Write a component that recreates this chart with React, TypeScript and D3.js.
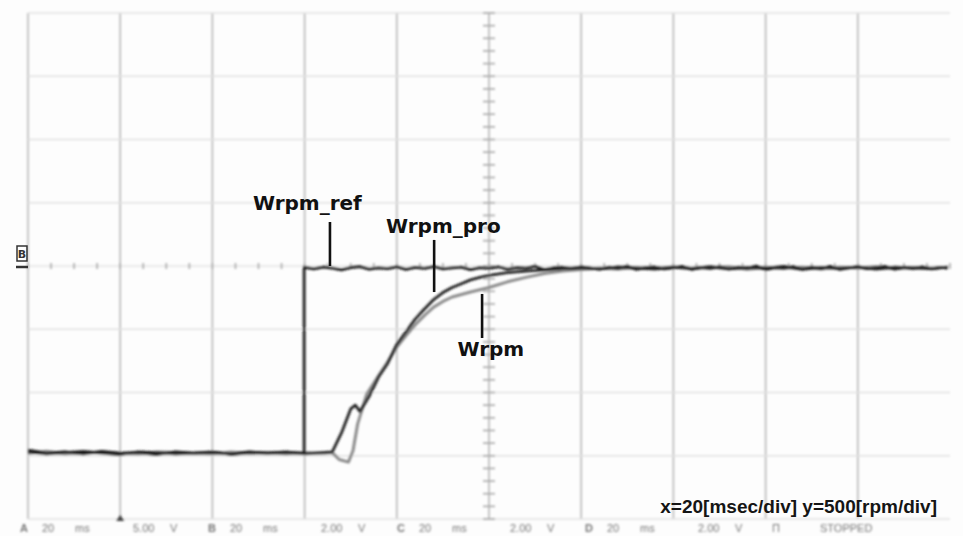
import React, { Component } from "react"
import * as d3 from "d3"

// scope screen: 10 div x 20 msec, 8 div x 500 rpm (centre line = 1500 rpm)
const xDivs = [0, 20, 40, 60, 80, 100, 120, 140, 160, 180, 200]
const yDivs = [-500, 0, 500, 1000, 1500, 2000, 2500, 3000, 3500]

// Wrpm_ref : speed command (step at ~60 ms)
const refTime = [0, 4, 8, 12, 16, 20, 24, 28, 32, 36, 40, 44, 48, 52, 56, 59.9, 59.9, 62, 64, 66, 68, 70, 72, 74, 76, 78, 80, 82, 84, 86, 88, 90, 92, 94, 96, 98, 100, 102, 104, 106, 108, 110, 112, 114, 116, 118, 120, 122, 124, 126, 128, 130, 132, 134, 136, 138, 140, 142, 144, 146, 148, 150, 152, 154, 156, 158, 160, 162, 164, 166, 168, 170, 172, 174, 176, 178, 180, 182, 184, 186, 188, 190, 192, 194, 196, 198, 199.5]
const refRpm = [45, 20, 30, 15, 35, 20, 25, 10, 30, 20, 25, 15, 30, 20, 25, 20,
  1490, 1478, 1492, 1483, 1470, 1488, 1495, 1476, 1486, 1480,
  1493, 1474, 1489, 1482, 1496, 1477, 1485, 1491, 1472, 1487,
  1481, 1494, 1476, 1488, 1483, 1497, 1471, 1486, 1490, 1479,
  1493, 1484, 1475, 1490, 1482, 1498, 1473, 1487, 1492, 1478,
  1485, 1496, 1474, 1489, 1481, 1494, 1477, 1490, 1483, 1499,
  1472, 1488, 1484, 1495, 1476, 1491, 1480, 1497, 1474, 1486,
  1493, 1479, 1488, 1496, 1475, 1490, 1482, 1494, 1478, 1489, 1484]

// Wrpm_pro : estimated speed
const proTime = [0, 4, 8, 12, 16, 20, 24, 28, 32, 36, 40, 44, 48, 52, 56, 60, 64, 66, 68, 70, 71, 72, 74, 76, 78, 80, 82, 84, 86, 88, 90, 92, 94, 96, 98, 100, 104, 108, 112, 116, 120, 124, 128, 132, 136, 140, 144, 148, 152, 156, 160, 164, 168, 172, 176, 180, 184, 188, 192, 196, 199.5]
const proRpm = [30, 15, 25, 35, 20, 10, 30, 25, 15, 20, 30, 10, 25, 20, 30, 15, 25,
  30, 180, 370, 400, 350, 470, 620, 730, 880, 980, 1080, 1160, 1235, 1290, 1330, 1360, 1390, 1410, 1425,
  1448, 1460, 1470, 1480, 1486, 1478, 1492, 1483, 1475, 1490, 1481, 1494, 1477, 1488, 1484, 1496, 1473, 1489, 1482, 1493, 1476, 1490, 1485, 1479, 1491]

// Wrpm : measured speed
const wTime = [0, 4, 8, 12, 16, 20, 24, 28, 32, 36, 40, 44, 48, 52, 56, 60, 64, 66, 67.5, 69.5, 70.5, 71.5, 73.5, 76, 78, 80, 82, 84, 86, 88, 90, 92, 94, 96, 98, 100, 104, 108, 112, 116, 120, 124, 128, 132, 136, 140, 144, 148, 152, 156, 160, 164, 168, 172, 176, 180, 184, 188, 192, 196, 199.5]
const wRpm = [20, 35, 15, 25, 30, 20, 15, 30, 25, 20, 15, 30, 20, 25, 15, 25, 20,
  25, -30, -50, 40, 250, 490,
  630, 740, 860, 950, 1035, 1110, 1175, 1220, 1255, 1275, 1295, 1312, 1330,
  1375, 1410, 1440, 1460, 1472, 1482, 1476, 1489, 1481, 1492, 1478, 1486, 1494, 1475, 1488, 1483, 1491, 1477, 1490, 1484, 1495, 1479, 1487, 1482, 1490]

// callouts, in (msec, rpm)
const labels = [
  { text: "Wrpm_ref", tx: 60.6, ty: 1943, lx: 65.5, ly1: 1848, ly2: 1500 },
  { text: "Wrpm_pro", tx: 90.1, ty: 1761, lx: 88.1, ly1: 1706, ly2: 1294 },
  { text: "Wrpm", tx: 100.4, ty: 789, lx: 98.5, ly1: 1279, ly2: 931 },
]

const channels = [
  { ch: "A", volts: "5.00" },
  { ch: "B", volts: "2.00" },
  { ch: "C", volts: "2.00" },
  { ch: "D", volts: "2.00" },
]

const zip = (t, v) => t.slice(0, Math.min(t.length, v.length)).map((d, i) => [d, v[i]])

class App extends Component {
  componentDidMount() {
    const width = 963, height = 536
    const svg = d3.select(".scope_svg").attr("width", width).attr("height", height)
    const x = d3.scaleLinear().domain([0, 200]).range([28, 950])
    const y = d3.scaleLinear().domain([-500, 3500]).range([519, 13])

    const screen = svg.select(".screen").attr("filter", "url(#soft)")

    // grid
    screen.selectAll(".vgrid").data(xDivs).join("line").attr("class", "vgrid")
      .attr("x1", d => x(d)).attr("x2", d => x(d)).attr("y1", y(3500)).attr("y2", y(-500))
      .attr("stroke", d => d === 200 ? "none" : "#b3b3b3").attr("stroke-width", 1.5)
    screen.selectAll(".hgrid").data(yDivs).join("line").attr("class", "hgrid")
      .attr("x1", x(0)).attr("x2", x(200)).attr("y1", d => y(d)).attr("y2", d => y(d))
      .attr("stroke", d => d === 1500 ? "none" : "#e0e0e0").attr("stroke-width", 1.4)

    // centre cross with minor ticks
    screen.append("line").attr("x1", x(100)).attr("x2", x(100)).attr("y1", y(3500)).attr("y2", y(-500))
      .attr("stroke", "#c4c4c4").attr("stroke-width", 1.2)
    screen.append("line").attr("x1", x(0)).attr("x2", x(200)).attr("y1", y(1500)).attr("y2", y(1500))
      .attr("stroke", "#d6d6d6").attr("stroke-width", 1)
    screen.selectAll(".ytick").data(y.ticks(40)).join("line").attr("class", "ytick")
      .attr("x1", x(100) - 6).attr("x2", x(100) + 6).attr("y1", d => y(d)).attr("y2", d => y(d))
      .attr("stroke", "#a8a8a8").attr("stroke-width", 1.6)
    screen.selectAll(".xtick").data(x.ticks(50)).join("line").attr("class", "xtick")
      .attr("x1", d => x(d)).attr("x2", d => x(d)).attr("y1", y(1500) - 3).attr("y2", y(1500) + 3)
      .attr("stroke", "#a8a8a8").attr("stroke-width", 1.6)

    // traces
    const line = d3.line().x(d => x(d[0])).y(d => y(d[1]))
    screen.append("path").datum(zip(wTime, wRpm)).attr("d", line)
      .attr("fill", "none").attr("stroke", "#8c8c8c").attr("stroke-width", 3).attr("stroke-linejoin", "round")
    screen.append("path").datum(zip(proTime, proRpm)).attr("d", line)
      .attr("fill", "none").attr("stroke", "#222").attr("stroke-width", 2.8).attr("stroke-linejoin", "round")
    screen.append("path").datum(zip(refTime, refRpm)).attr("d", line)
      .attr("fill", "none").attr("stroke", "#1a1a1a").attr("stroke-width", 2.8).attr("stroke-linejoin", "round")

    // callouts
    const notes = svg.select(".notes")
    notes.selectAll(".lead").data(labels).join("line").attr("class", "lead")
      .attr("x1", d => x(d.lx)).attr("x2", d => x(d.lx)).attr("y1", d => y(d.ly1)).attr("y2", d => y(d.ly2))
      .attr("stroke", "#111").attr("stroke-width", 2.6)
    notes.selectAll(".tag").data(labels).join("text").attr("class", "tag")
      .attr("x", d => x(d.tx)).attr("y", d => y(d.ty)).attr("text-anchor", "middle")
      .attr("font-family", "DejaVu Sans").attr("font-weight", "bold").attr("font-size", 20)
      .attr("fill", "#111").text(d => d.text)

    // channel marker
    notes.append("rect").attr("x", 17).attr("y", y(1500) - 20).attr("width", 10).attr("height", 15)
      .attr("fill", "none").attr("stroke", "#333").attr("stroke-width", 1.5)
    notes.append("text").attr("x", 22).attr("y", y(1500) - 8).attr("text-anchor", "middle")
      .attr("font-family", "DejaVu Sans").attr("font-weight", "bold").attr("font-size", 11)
      .attr("fill", "#333").text("B")
    notes.append("line").attr("x1", 16).attr("x2", 28).attr("y1", y(1500) + 1).attr("y2", y(1500) + 1)
      .attr("stroke", "#333").attr("stroke-width", 2.5)

    notes.append("text").attr("x", 937).attr("y", 513).attr("text-anchor", "end")
      .attr("font-family", "Liberation Sans").attr("font-weight", "bold").attr("font-size", 19)
      .attr("fill", "#151515").text("x=20[msec/div] y=500[rpm/div]")

    // status line along the bottom edge
    const status = svg.select(".status").attr("filter", "url(#blurry)")
    const cx = [20, 208, 397, 585]
    channels.forEach((c, i) => {
      const g = status.append("g").attr("transform", `translate(${cx[i]},532)`)
      g.append("text").attr("x", 0).text(c.ch).attr("font-weight", "bold")
      g.append("text").attr("x", 22).text("20")
      g.append("text").attr("x", 55).text("ms")
      g.append("text").attr("x", 113).text(c.volts)
      g.append("text").attr("x", 150).text("V")
    })
    status.append("text").attr("x", 772).attr("y", 532).text("Π")
    status.append("text").attr("x", 820).attr("y", 532).text("STOPPED")
    status.selectAll("text").attr("font-family", "Liberation Sans").attr("font-size", 11).attr("fill", "#777")
    status.append("path").attr("d", `M${x(20) - 4},521 L${x(20)},515 L${x(20) + 4},521 Z`).attr("fill", "#444")
  }

  render() {
    return (
      <svg className="scope_svg" style={{ position: "absolute", left: 0, top: 0, background: "#fdfdfd" }}>
        <defs>
          <filter id="soft"><feGaussianBlur stdDeviation="0.85" /></filter>
          <filter id="blurry"><feGaussianBlur stdDeviation="1.0" /></filter>
        </defs>
        <g className="screen"></g>
        <g className="notes"></g>
        <g className="status"></g>
      </svg>
    )
  }
}

export default App
